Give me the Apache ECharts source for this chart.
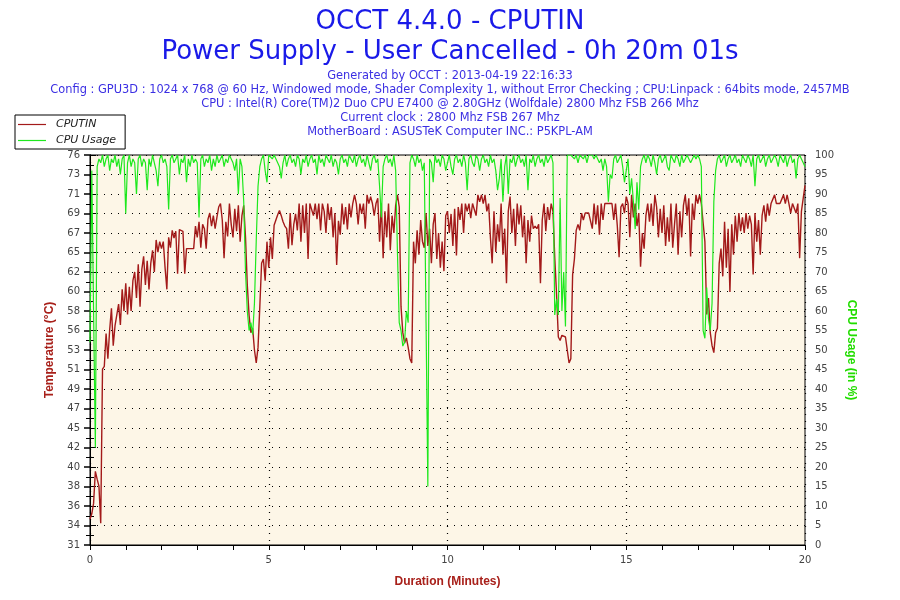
<!DOCTYPE html>
<html><head><meta charset="utf-8">
<script src="https://cdn.jsdelivr.net/npm/echarts@6/dist/echarts.min.js"></script>
<style>html,body{margin:0;padding:0;background:#fff}#c{width:900px;height:600px}</style>
</head><body><div id="c"></div>
<script>
// sample spacing of the series (minutes)
const sampleStepMin = 0.05;

// CPUTIN temperature (°C), one value every 0.05 min from 0 to 20
const cputinTemp = [
34.0,34.6,35.8,39.5,38.6,37.8,33.5,51.3,51.6,55.4,52.5,55.8,58.3,54.0,56.3,56.5,58.8,56.4,60.5,58.0,
61.2,57.6,60.8,58.0,61.5,62.5,59.5,63.4,58.5,62.8,64.3,61.0,63.8,60.5,63.5,65.0,62.5,66.2,64.8,66.0,
65.2,66.0,63.0,60.5,66.5,65.3,67.3,66.4,67.2,62.3,67.4,67.4,67.2,62.3,65.2,65.2,65.2,65.2,65.2,67.8,
66.5,68.3,65.3,68.0,67.5,65.2,68.6,69.3,67.8,69.0,67.5,68.8,70.0,70.4,68.5,64.1,68.3,66.6,70.4,68.0,
66.5,69.8,67.2,70.2,66.0,69.0,70.2,66.5,61.0,57.5,55.5,56.0,53.5,52.0,53.8,58.5,63.5,64.0,61.5,66.0,
63.0,66.5,64.0,67.9,68.5,69.1,69.6,69.0,68.3,67.8,67.5,65.2,69.3,65.6,68.0,69.2,67.3,70.4,66.0,70.2,
67.0,70.4,64.0,70.4,70.4,69.0,70.4,68.6,70.4,67.3,70.4,69.5,67.0,70.4,68.5,70.0,66.5,69.3,63.3,68.4,
66.8,70.4,68.0,70.0,67.4,70.4,68.8,70.4,71.4,70.4,68.0,70.4,69.2,70.4,67.5,71.4,70.4,71.2,70.4,69.0,
70.4,71.0,66.0,70.4,64.1,69.5,66.5,70.4,65.0,69.0,67.0,70.2,71.4,70.0,58.5,55.5,54.3,54.9,53.8,52.5,
52.0,66.0,63.5,67.3,64.5,68.5,66.0,65.3,69.3,65.5,67.5,63.5,68.0,69.3,64.0,67.0,63.0,66.0,62.6,69.0,
69.5,67.0,69.2,65.5,69.8,64.4,70.0,68.5,70.4,67.0,70.4,69.5,70.4,68.7,70.4,70.4,69.0,71.4,70.6,71.4,
70.4,71.4,69.5,70.4,66.5,63.5,69.5,64.8,68.0,66.0,70.4,64.5,67.5,61.2,69.5,71.2,67.0,69.8,65.5,70.4,
68.0,70.2,66.5,69.0,63.5,68.5,66.0,69.0,67.5,67.8,67.5,68.0,61.2,68.5,70.4,67.2,70.0,68.5,70.4,69.5,
64.2,60.0,55.0,54.6,55.2,55.2,55.0,53.5,52.0,52.5,62.2,64.0,67.3,68.0,67.3,69.3,68.5,69.3,69.3,69.3,
69.3,67.5,70.4,68.0,70.2,66.8,70.4,68.5,70.4,70.4,70.4,70.4,70.4,68.5,70.4,67.8,64.2,70.0,70.4,69.3,
71.2,70.4,66.5,71.4,68.8,70.4,67.8,69.3,63.1,67.0,65.2,69.0,70.4,68.3,70.4,67.8,71.4,70.0,66.5,69.8,
67.0,70.2,65.5,68.8,66.0,70.4,65.3,68.0,70.4,64.5,69.5,66.5,70.2,71.4,69.0,71.0,64.3,70.4,68.5,71.4,
70.4,71.4,70.4,70.4,66.0,57.6,59.5,55.5,54.0,53.2,55.5,56.0,63.5,65.2,62.0,68.3,63.0,67.5,60.2,68.0,
64.5,69.0,66.0,69.3,67.2,68.8,67.0,69.3,67.5,69.0,68.0,62.2,69.3,66.0,68.5,64.5,69.0,70.2,68.3,70.4,
69.0,70.4,70.4,71.4,70.4,70.4,70.4,70.4,71.4,70.4,71.4,70.4,69.3,70.4,70.4,69.3,70.4,64.1,69.5,71.0,
72.5
];

// CPU usage (%), one value every 0.05 min from 0 to 20
const cpuUsage = [
52,96,60,25,97,99,98,100,97,99,100,96,99,98,100,97,99,95,99,100,
85,98,100,97,99,98,90,99,100,97,99,98,91,99,97,100,98,96,92,99,
100,98,99,97,86,99,100,98,99,100,95,99,98,100,93,99,97,100,98,99,
98,84,99,100,97,99,98,100,96,99,97,100,98,99,100,97,99,98,100,99,
98,96,99,90,99,97,88,70,60,55,57,54,62,78,92,97,99,100,96,93,
100,100,99,100,100,98,97,94,98,100,97,99,100,98,99,97,100,99,95,99,
98,100,97,99,100,98,99,95,100,98,99,97,100,99,98,100,97,99,98,95,
99,100,98,99,97,100,99,98,100,97,99,100,98,99,97,100,98,96,99,100,
98,99,92,84,97,99,100,98,99,97,100,96,75,57,55,51,52,60,57,98,
100,99,97,100,98,99,96,98,57,15,99,98,93,100,98,99,97,100,99,96,
98,100,97,95,99,100,98,99,97,100,98,91,99,100,98,97,100,99,96,99,
100,98,99,97,100,98,99,96,91,94,99,88,97,100,90,99,98,100,97,99,
100,98,99,97,100,91,99,98,100,97,99,100,98,99,97,100,98,99,100,98,
59,63,59,89,60,70,56,100,100,100,100,99,100,98,100,100,99,100,98,100,
100,100,99,100,100,98,99,96,99,97,88,95,94,99,100,98,99,100,97,93,
96,99,90,94,88,81,93,86,97,99,100,98,100,99,97,100,98,95,99,100,
98,99,100,97,96,100,99,98,100,99,97,100,98,99,100,100,98,99,100,99,
100,99,97,55,53,66,58,55,62,88,96,99,100,98,99,100,97,99,100,98,
99,100,98,99,97,100,99,98,100,99,97,100,92,99,100,98,99,100,97,99,
100,98,99,100,99,97,100,99,98,100,97,99,100,98,99,94,99,100,99,98,
97
];

// axis tick labels
const tempTickLabels = ['31','34','36','38','40','42','45','47','49','51','53','56','58','60','62','65','67','69','71','73','76'];
const tempMin = 31, tempMax = 76;
const durationLabels = [0, 5, 10, 15, 20];

const titleLines = ['OCCT 4.4.0 - CPUTIN', 'Power Supply - User Cancelled - 0h 20m 01s'];
const infoLines = [
  'Generated by OCCT : 2013-04-19 22:16:33',
  'Config : GPU3D : 1024 x 768 @ 60 Hz, Windowed mode, Shader Complexity 1, without Error Checking ; CPU:Linpack : 64bits mode, 2457MB',
  'CPU : Intel(R) Core(TM)2 Duo CPU E7400 @ 2.80GHz (Wolfdale) 2800 Mhz FSB 266 Mhz',
  'Current clock : 2800 Mhz FSB 267 Mhz',
  'MotherBoard : ASUSTeK Computer INC.: P5KPL-AM'
];
const seriesNames = ['CPUTIN', 'CPU Usage'];

const tempStep = (tempMax - tempMin) / (tempTickLabels.length - 1);
const tempTickValues = tempTickLabels.map((_, i) => tempMin + i * tempStep);
const tempMinorValues = tempTickValues.slice(0, -1).map(v => v + tempStep / 2);

const tempData = cputinTemp.map((v, i) => [+(i * sampleStepMin).toFixed(2), v]);
const cpuData = cpuUsage.map((v, i) => [+(i * sampleStepMin).toFixed(2), v]);

const FONT = 'DejaVu Sans';
const titleTop = [9, 39];
const infoTop = [71, 85, 99, 113, 127];
const graphics = [];
titleLines.forEach((t, i) => graphics.push({
  type: 'text', left: 'center', top: titleTop[i],
  style: { text: t, fill: '#1a1ae8', font: '26px "' + FONT + '"' }
}));
infoLines.forEach((t, i) => graphics.push({
  type: 'text', left: 'center', top: infoTop[i],
  style: { text: t, fill: '#3b2fe3', font: '11.4px "' + FONT + '"' }
}));

const chart = echarts.init(document.getElementById('c'), null, { renderer: 'canvas' });
chart.setOption({
  animation: false,
  backgroundColor: '#ffffff',
  graphic: graphics,
  grid: { left: 90, right: 95, top: 155, bottom: 55, show: true,
          backgroundColor: '#fdf6e7', borderColor: '#000', borderWidth: 1 },
  legend: {
    data: seriesNames, orient: 'vertical', left: 15, top: 115,
    icon: 'rect', padding: [4, 9, 3, 3], itemGap: 5, itemWidth: 28, itemHeight: 1.2,
    backgroundColor: '#fff', borderColor: '#000', borderWidth: 1, z: 20,
    textStyle: { fontFamily: FONT, fontStyle: 'italic', fontSize: 11, color: '#222', padding: [0, 0, 0, 5] }
  },
  xAxis: [
    { type: 'value', min: 0, max: 20, interval: 1, position: 'bottom',
      name: 'Duration (Minutes)', nameLocation: 'middle', nameGap: 31,
      nameTextStyle: { color: '#a8201a', fontWeight: 'bold', fontSize: 12, fontFamily: 'Liberation Sans' },
      axisLine: { lineStyle: { color: '#000', width: 1 } },
      axisTick: { length: 5, lineStyle: { color: '#000' } },
      axisLabel: { customValues: durationLabels, color: '#444', fontSize: 10, fontFamily: FONT, margin: 10 },
      splitLine: { show: false } },
    { type: 'value', min: 0, max: 20, interval: 5, position: 'bottom',
      axisLine: { show: false }, axisTick: { show: false }, axisLabel: { show: false },
      splitLine: { show: true, lineStyle: { color: '#000', type: [1, 6], width: 1.2 } } }
  ],
  yAxis: [
    { type: 'value', min: tempMin, max: tempMax, position: 'left',
      name: 'Temperature (°C)', nameLocation: 'middle', nameGap: 34, nameRotate: 90,
      nameTextStyle: { color: '#a8201a', fontWeight: 'bold', fontSize: 12, fontFamily: 'Liberation Sans' },
      axisLine: { show: true, lineStyle: { color: '#000' } },
      axisTick: { show: true, customValues: tempTickValues, length: 6, lineStyle: { color: '#000', width: 1.5 } },
      axisLabel: { customValues: tempTickValues, color: '#444', fontSize: 10, fontFamily: FONT, margin: 10,
        formatter: v => tempTickLabels[Math.round((v - tempMin) / tempStep)] },
      splitLine: { show: false } },
    { type: 'value', min: 0, max: 100, interval: 5, position: 'right',
      name: 'CPU Usage (in %)', nameLocation: 'middle', nameGap: 37, nameRotate: -90,
      nameTextStyle: { color: '#22dd00', fontWeight: 'bold', fontSize: 12, fontFamily: 'Liberation Sans' },
      axisLine: { show: true, lineStyle: { color: '#000' } },
      axisTick: { show: true, length: 6, lineStyle: { color: '#000' } },
      minorTick: { show: true, splitNumber: 2, length: 4, lineStyle: { color: '#000' } },
      axisLabel: { color: '#444', fontSize: 10, fontFamily: FONT, margin: 10 },
      splitLine: { show: true, lineStyle: { color: '#000', type: [1, 6], width: 1.2 } } },
    { type: 'value', min: tempMin, max: tempMax, position: 'left',
      axisLine: { show: false }, axisLabel: { show: false }, splitLine: { show: false },
      axisTick: { show: true, customValues: tempMinorValues, length: 4, lineStyle: { color: '#000' } } }
  ],
  series: [
    { name: seriesNames[0], type: 'line', xAxisIndex: 0, yAxisIndex: 0, data: tempData,
      symbol: 'none', lineStyle: { color: '#a31a1a', width: 1.4 }, itemStyle: { color: '#a31a1a' } },
    { name: seriesNames[1], type: 'line', xAxisIndex: 0, yAxisIndex: 1, data: cpuData,
      symbol: 'none', lineStyle: { color: '#1ee81e', width: 1.2 }, itemStyle: { color: '#1ee81e' } }
  ]
});
</script>
</body></html>
